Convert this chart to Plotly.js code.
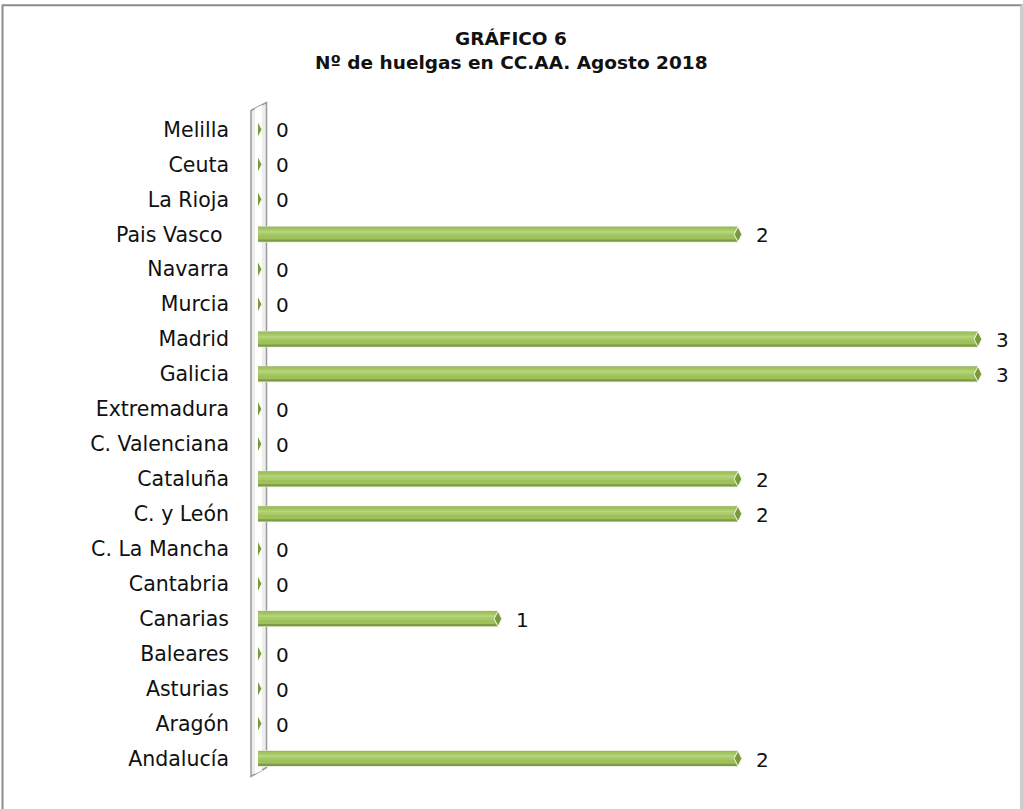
<!DOCTYPE html>
<html>
<head>
<meta charset="utf-8">
<script src="https://cdn.plot.ly/plotly-3.0.1.min.js"></script>
<style>html,body{margin:0;padding:0;background:#fff;}#chart{width:1023px;height:809px;}</style>
</head>
<body>
<div id="chart"></div>
<script>
// ---- data ----
var regions = ["Andalucía","Aragón","Asturias","Baleares","Canarias","Cantabria","C. La Mancha","C. y León","Cataluña","C. Valenciana","Extremadura","Galicia","Madrid","Murcia","Navarra","Pais Vasco\u00a0","La Rioja","Ceuta","Melilla"];
var strikes = [2,0,0,0,1,0,0,2,2,0,0,3,3,0,0,2,0,0,0];
var chartTitle = ["GRÁFICO 6","Nº de huelgas en CC.AA. Agosto 2018"];

// ---- geometry ----
var W = 1023, H = 809;
var M = {l:258, r:21, t:111.5, b:32.5};
var PW = W - M.l - M.r, PH = H - M.t - M.b;
function px(x){ return (x - M.l) / PW; }
function py(y){ return (H - M.b - y) / PH; }

function barLayer(color, width, offset){
  return {type:'bar', orientation:'h', y:regions, x:strikes, width:width, offset:offset,
    marker:{color:color, line:{width:0}}, hoverinfo:'skip', showlegend:false};
}

var traces = [
  barLayer('#e2ead4', 0.47, -0.235),
  barLayer('#7d9a44', 0.43, -0.215),
  barLayer('#9fc15c', 0.36, -0.15),
  barLayer('#a9ca68', 0.18, -0.03),
  barLayer('#b6d479', 0.06, 0.04),
  {type:'scatter', mode:'markers', y:regions, x:strikes, hoverinfo:'skip', showlegend:false,
    marker:{symbol:'diamond-tall', size:11, color:'#789a3a', line:{color:'#f4f7ec', width:1}}}
];

var annotations = strikes.map(function(v,i){
  return {x:v, y:regions[i], xref:'x', yref:'y', text:String(v), showarrow:false,
    xanchor:'left', yanchor:'middle', xshift:16, yshift:-1,
    font:{family:'DejaVu Sans', size:20, color:'#111'}};
});
annotations.push({xref:'paper', yref:'paper', x:px(511), y:py(38), text:'<b>'+chartTitle[0]+'</b>',
  showarrow:false, xanchor:'center', yanchor:'middle', font:{family:'DejaVu Sans', size:18.5, color:'#111'}});
annotations.push({xref:'paper', yref:'paper', x:px(511), y:py(62), text:'<b>'+chartTitle[1]+'</b>',
  showarrow:false, xanchor:'center', yanchor:'middle', font:{family:'DejaVu Sans', size:18.5, color:'#111'}});

function path(pts){
  return 'M' + pts.map(function(p){ return px(p[0]) + ',' + py(p[1]); }).join(' L') + ' Z';
}

var shapes = [
  // outer border
  {type:'rect', xref:'paper', yref:'paper', x0:px(2.5), x1:px(1021.5), y0:py(812), y1:py(4.5),
    line:{color:'#8c8c8c', width:2}, fillcolor:'rgba(0,0,0,0)', layer:'below'},
  {type:'line', xref:'paper', yref:'paper', x0:px(1021.5), x1:px(1021.5), y0:py(812), y1:py(4.5),
    line:{color:'#d0d0d0', width:2}, layer:'below'},
  // wall
  {type:'path', xref:'paper', yref:'paper', path:path([[251,110],[266.5,102],[266.5,768],[251,777]]),
    fillcolor:'#eeeeee', line:{color:'#9a9a9a', width:1.5}, layer:'below'},
  {type:'path', xref:'paper', yref:'paper', path:path([[255,108],[262,104.5],[262,771],[255,774.5]]),
    fillcolor:'#ffffff', line:{width:0}, layer:'below'}
];

var layout = {
  width:W, height:H, margin:M, paper_bgcolor:'#ffffff', plot_bgcolor:'rgba(0,0,0,0)',
  barmode:'overlay', showlegend:false,
  xaxis:{range:[0, PW/240], visible:false, fixedrange:true},
  yaxis:{type:'category', categoryorder:'array', categoryarray:regions, range:[-0.5, regions.length-0.5],
    showgrid:false, zeroline:false, showline:false, ticks:'', ticklabelstandoff:28,
    tickfont:{family:'DejaVu Sans', size:20.5, color:'#111'}, fixedrange:true},
  annotations:annotations, shapes:shapes
};

Plotly.newPlot('chart', traces, layout, {displayModeBar:false, staticPlot:true});
</script>
</body>
</html>
